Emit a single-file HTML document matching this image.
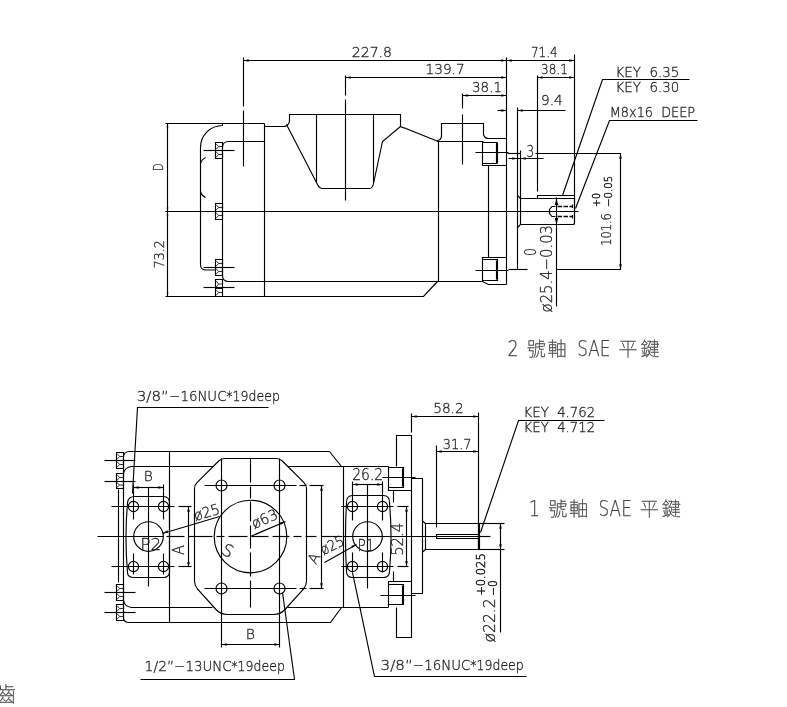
<!DOCTYPE html>
<html lang="zh-Hant"><head><meta charset="utf-8"><title>SAE shaft pump drawing</title>
<style>
html,body{margin:0;padding:0;background:#fff;overflow:hidden}
svg{display:block}
.ln{fill:none;stroke:#000;stroke-width:1.15}
.th{stroke-width:.8}
.cl{stroke-dasharray:13 4}
.ar{fill:#000;stroke:none}
.t{font-family:"DejaVu Sans Light","Liberation Sans",sans-serif;font-weight:200;fill:#222;stroke:#222;stroke-width:.3}
.ts{stroke-width:.5}
.tx{opacity:.999}
.tc{fill:#444;stroke:#444;stroke-width:.25}
.cj{font-family:"Liberation Sans","Noto Sans CJK TC","Noto Sans CJK JP",sans-serif;font-weight:100;fill:#444;stroke:#444;stroke-width:.3}
</style></head><body>
<svg width="787" height="707" viewBox="0 0 787 707">
<rect width="787" height="707" fill="#fff"/>
<g class="tx">
<g class="ln">
<line x1="243.5" y1="60.5" x2="574.5" y2="60.5"/>
<line x1="345.5" y1="77.5" x2="506.5" y2="77.5"/>
<line x1="462.5" y1="95.5" x2="506.5" y2="95.5"/>
<line x1="537.5" y1="77.5" x2="574.5" y2="77.5"/>
<line x1="497.5" y1="110.5" x2="506.5" y2="110.5"/>
<line x1="517.5" y1="110.5" x2="565.5" y2="110.5"/>
<line x1="508.5" y1="158.5" x2="543.5" y2="158.5"/>
<line x1="243.5" y1="57.5" x2="243.5" y2="106.5"/>
<line x1="243.5" y1="110.5" x2="243.5" y2="166.5"/>
<line x1="345.5" y1="75.5" x2="345.5" y2="95.5"/>
<line x1="345.5" y1="99.5" x2="345.5" y2="200.5"/>
<line x1="462.5" y1="93.5" x2="462.5" y2="108.5"/>
<line x1="462.5" y1="114.5" x2="462.5" y2="164.5"/>
<line x1="506.5" y1="57.5" x2="506.5" y2="284.5"/>
<line x1="574.5" y1="54.5" x2="574.5" y2="224.5"/>
<line x1="537.5" y1="75.5" x2="537.5" y2="191.5"/>
<line x1="517.5" y1="107.5" x2="517.5" y2="269.5"/>
<line x1="520.5" y1="150.5" x2="520.5" y2="224.5"/>
<line x1="167.5" y1="123.5" x2="167.5" y2="296.5"/>
<line x1="165.5" y1="123.5" x2="264.5" y2="123.5"/>
<line x1="165.5" y1="211.5" x2="578.5" y2="211.5"/>
<path d="M165.5,296.5H423.5L437.5,281.5"/>
<line x1="264.5" y1="123.5" x2="264.5" y2="296.5"/>
<path d="M264.5,126.5H283.5A6,6 0 0 0 289.5,120.5V114.5H400.5V126.5L436.5,140.8"/>
<path d="M286.5,124.5L317.5,184.5Q319.5,188.5 322.5,188.5H369.5Q372.5,188.5 373.5,183.5L382.5,141.5L400.5,126.5"/>
<line x1="316.5" y1="114.5" x2="316.5" y2="182.5"/>
<line x1="373.5" y1="114.5" x2="373.5" y2="182.5"/>
<path d="M436.5,140.5Q441.5,140.5 441.5,135.5V123.5H483.5V134.5Q484.5,138.5 488.5,138.5H506.5"/>
<line x1="436.5" y1="141.5" x2="483.5" y2="141.5"/>
<line x1="438.5" y1="141.5" x2="438.5" y2="281.5"/>
<path d="M264.5,141.5H228.5Q222.5,141.5 222.5,147.5V275.5Q222.5,281.5 228.5,281.5H482.5"/>
<path d="M222.5,123.5V125.5A22,22 0 0 0 200.5,147.5V264.5Q200.3,270 206.5,270H216"/>
<path d="M205.5,157.5Q201.5,159.5 200.5,163.5"/>
<path d="M200.5,191.5Q201.5,195.5 205.5,197.5"/>
<path d="M482.5,141.5V165.5H506.5"/>
<path d="M482.5,142.5H496.5V163.5H482.5 M497.5,142.5V163.5"/>
<line x1="475.5" y1="152.5" x2="508.5" y2="152.5"/>
<line x1="488.5" y1="165.5" x2="488.5" y2="257.5"/>
<path d="M506.5,257.5H482.5V281.5L488.5,284.5H506.5"/>
<path d="M482.5,259.5H497.5V280.5H482.5 M496.5,260.5V279.5"/>
<line x1="475.5" y1="270.5" x2="508.5" y2="270.5"/>
<path d="M535.5,153.5H620.5V269.5H556.5"/>
<line x1="507.5" y1="153.5" x2="520.5" y2="153.5"/>
<line x1="508.5" y1="269.5" x2="527.5" y2="269.5"/>
<path d="M520.5,198.5H574.5V223L573.3,224.5H520.5"/>
<path d="M517.5,195.5L520.5,198.5 M517.5,227.5L520.5,224.5"/>
<path d="M537.5,198.5V195.5H574.5"/>
<path d="M555.5,206.5H552L549.5,209.5V213.5L552,216.5H555.5 M572.5,204.5V208 M572.5,215V218.5"/>
<path d="M557.5,206.5H572.5 M557.5,216.5H572.5" stroke-dasharray="4.5 1.5" stroke-width="1.7"/>
<line x1="556.5" y1="197.5" x2="556.5" y2="306.5"/>
<path d="M562.5,195.5L602.5,79.5H689.5"/>
<path d="M575.5,208.5L609.5,120.5H697.5"/>
</g>
<g class="ln">
<path d="M215.5,142.5H222.5V158.5H215.5Z M215.5,150.5H222.5"/>
<path d="M216.0,143.7L218.65,146.5L216.0,149.3 M218.65,146.5H222.5" class="th"/>
<path d="M216.0,151.7L218.65,154.5L216.0,157.3 M218.65,154.5H222.5" class="th"/>
<line x1="203.5" y1="150.5" x2="234.5" y2="150.5"/>
<path d="M215.5,203.5H222.5V219.5H215.5Z M215.5,211.5H222.5"/>
<path d="M216.0,204.7L218.65,207.5L216.0,210.3 M218.65,207.5H222.5" class="th"/>
<path d="M216.0,212.7L218.65,215.5L216.0,218.3 M218.65,215.5H222.5" class="th"/>
<path d="M215.5,259.5H222.5V275.5H215.5Z M215.5,267.5H222.5"/>
<path d="M216.0,260.7L218.65,263.5L216.0,266.3 M218.65,263.5H222.5" class="th"/>
<path d="M216.0,268.7L218.65,271.5L216.0,274.3 M218.65,271.5H222.5" class="th"/>
<line x1="203.5" y1="267.5" x2="234.5" y2="267.5"/>
<path d="M215.5,279.5H222.5V296.5H215.5Z M215.5,288.5H222.5"/>
<path d="M216.0,280.7L218.65,284.0L216.0,287.3 M218.65,284.0H222.5" class="th"/>
<path d="M216.0,289.7L218.65,292.5L216.0,295.3 M218.65,292.5H222.5" class="th"/>
<line x1="203.5" y1="287.5" x2="234.5" y2="287.5"/>
</g>
<polygon class="ar" points="243.5,60.5 248.7,59.2 248.7,61.8"/>
<polygon class="ar" points="506.5,60.5 501.3,61.8 501.3,59.2"/>
<polygon class="ar" points="506.5,60.5 511.7,59.2 511.7,61.8"/>
<polygon class="ar" points="574.5,60.5 569.3,61.8 569.3,59.2"/>
<polygon class="ar" points="345.5,77.5 350.7,76.2 350.7,78.8"/>
<polygon class="ar" points="506.5,77.5 501.3,78.8 501.3,76.2"/>
<polygon class="ar" points="462.5,95.5 467.7,94.2 467.7,96.8"/>
<polygon class="ar" points="506.5,95.5 501.3,96.8 501.3,94.2"/>
<polygon class="ar" points="537.5,77.5 542.7,76.2 542.7,78.8"/>
<polygon class="ar" points="574.5,77.5 569.3,78.8 569.3,76.2"/>
<polygon class="ar" points="506.5,110.5 501.3,111.8 501.3,109.2"/>
<polygon class="ar" points="517.5,110.5 522.7,109.2 522.7,111.8"/>
<polygon class="ar" points="517.5,158.5 512.3,159.8 512.3,157.2"/>
<polygon class="ar" points="520.5,158.5 525.7,157.2 525.7,159.8"/>
<polygon class="ar" points="167.5,123.5 168.4,127.5 166.6,127.5"/>
<polygon class="ar" points="167.5,211.5 166.6,207.5 168.4,207.5"/>
<polygon class="ar" points="167.5,211.5 168.4,215.5 166.6,215.5"/>
<polygon class="ar" points="167.5,296.5 166.6,292.5 168.4,292.5"/>
<polygon class="ar" points="556.5,198.5 558.3,205.0 554.7,205.0"/>
<polygon class="ar" points="556.5,224.5 554.7,218.0 558.3,218.0"/>
<polygon class="ar" points="620.5,153.5 621.8,158.7 619.2,158.7"/>
<polygon class="ar" points="620.5,269.5 619.2,264.3 621.8,264.3"/>
<text class="t" x="351.8" y="56.5" font-size="14.17" textLength="40.2" lengthAdjust="spacingAndGlyphs">227.8</text>
<text class="t" x="425.6" y="74.4" font-size="14.17" textLength="39" lengthAdjust="spacingAndGlyphs">139.7</text>
<text class="t" x="472" y="92.2" font-size="14.17" textLength="30" lengthAdjust="spacingAndGlyphs">38.1</text>
<text class="t" x="530.9" y="56.5" font-size="14.17" textLength="26.7" lengthAdjust="spacingAndGlyphs">71.4</text>
<text class="t" x="541" y="74.4" font-size="14.17" textLength="26.8" lengthAdjust="spacingAndGlyphs">38.1</text>
<text class="t" x="541" y="104.9" font-size="14.17" textLength="21.7" lengthAdjust="spacingAndGlyphs">9.4</text>
<text class="t" x="526.6" y="157.2" font-size="15.04" textLength="7.6" lengthAdjust="spacingAndGlyphs">3</text>
<text class="t" x="615.6" y="76.7" font-size="13.63" textLength="63.6" lengthAdjust="spacingAndGlyphs">KEY&#160;&#160;6.35</text>
<text class="t" x="615.6" y="92.1" font-size="13.63" textLength="63.6" lengthAdjust="spacingAndGlyphs">KEY&#160;&#160;6.30</text>
<text class="t" x="609.8" y="117" font-size="13.63" textLength="85.2" lengthAdjust="spacingAndGlyphs">M8x16&#160;&#160;DEEP</text>
<text class="t" x="163.2" y="171" font-size="13.73" textLength="7.6" lengthAdjust="spacingAndGlyphs" transform="rotate(-90 163.2 171)">D</text>
<text class="t" x="164.4" y="268.2" font-size="13.52" textLength="28" lengthAdjust="spacingAndGlyphs" transform="rotate(-90 164.4 268.2)">73.2</text>
<text class="t" x="610.6" y="245.8" font-size="13.3" textLength="32.6" lengthAdjust="spacingAndGlyphs" transform="rotate(-90 610.6 245.8)">101.6</text>
<text class="t ts" x="600.3" y="207" font-size="10.68" textLength="14" lengthAdjust="spacingAndGlyphs" transform="rotate(-90 600.3 207)">+0</text>
<text class="t ts" x="612.4" y="207" font-size="10.68" textLength="31.3" lengthAdjust="spacingAndGlyphs" transform="rotate(-90 612.4 207)">&#8722;0.05</text>
<text class="t" x="552.2" y="312.4" font-size="16.35" textLength="87.4" lengthAdjust="spacingAndGlyphs" transform="rotate(-90 552.2 312.4)">&#248;25.4&#8722;0.03</text>
<text class="t" x="536.2" y="256" font-size="15.26" textLength="8" lengthAdjust="spacingAndGlyphs" transform="rotate(-90 536.2 256)">0</text>
<g class="ln">
<path d="M329.5,451.5H129.5Q123.5,451.5 123.5,457.5V617.5Q123.5,622.5 129.5,622.5H330.5L341.5,607.5"/>
<path d="M329.5,451.5L341.5,466.5"/>
<path d="M213.5,466.5H131.5Q124.5,467.5 123.5,473.5"/>
<path d="M212.5,607.5H131.5Q124.5,606.5 123.5,600.5"/>
<line x1="118.5" y1="489.5" x2="118.5" y2="582.5"/>
<line x1="169.5" y1="451.5" x2="169.5" y2="622.5"/>
<line x1="287.5" y1="466.5" x2="388.5" y2="466.5"/>
<line x1="287.5" y1="607.5" x2="388.5" y2="607.5"/>
<line x1="343.5" y1="466.5" x2="343.5" y2="607.5"/>
<path d="M224.7,458.5H276.3Q279.8,458.5 282.3,461L304,482.7Q306.5,485.2 306.5,488.7V581Q306.5,585.5 303.5,589L285,609.5Q280.5,614.5 273.5,614.5H227.5Q220.5,614.5 216,609.5L197.5,589Q194.5,585.5 194.5,581V488.7Q194.5,485.2 197,482.7L218.7,461Q221.2,458.5 224.7,458.5Z"/>
<circle cx="250.5" cy="536.5" r="36.3"/>
<circle cx="221.5" cy="485.5" r="5.5"/>
<circle cx="279.5" cy="485.5" r="5.5"/>
<circle cx="221.5" cy="588.5" r="5.5"/>
<circle cx="279.5" cy="588.5" r="5.5"/>
<line x1="221.5" y1="458.5" x2="221.5" y2="647.5"/>
<line x1="279.5" y1="458.5" x2="279.5" y2="647.5"/>
<line x1="221.5" y1="644.5" x2="279.5" y2="644.5"/>
<path d="M134.5,496.5H163.5Q169.5,496.5 169.5,503.5V571.5Q169.5,577.5 163.5,577.5H134.5Q127.5,577.5 127.5,572.5Q124.5,537.5 127.5,502.5Q128.5,496.5 134.5,496.5Z"/>
<circle cx="148.5" cy="536.5" r="14.8"/>
<circle cx="133.5" cy="506.5" r="5.1"/>
<circle cx="163.5" cy="506.5" r="5.1"/>
<circle cx="133.5" cy="566.5" r="5.1"/>
<circle cx="163.5" cy="566.5" r="5.1"/>
<line x1="133.5" y1="487.5" x2="163.5" y2="487.5"/>
<line x1="133.5" y1="484.5" x2="133.5" y2="491.5"/>
<line x1="163.5" y1="484.5" x2="163.5" y2="491.5"/>
<line x1="148.5" y1="487.5" x2="148.5" y2="586.5"/>
<line x1="188.5" y1="506.5" x2="188.5" y2="566.5"/>
<line x1="162.5" y1="533.5" x2="219.5" y2="516.5"/>
<line x1="250.5" y1="536.5" x2="285.5" y2="521.5"/>
<path d="M352.5,495.5H383.5Q389.5,495.5 389.5,502.5Q392.5,536.5 389.5,571.5Q389.5,577.5 383.5,577.5H352.5Q346.5,577.5 346.5,571.5Q344.5,536.5 346.5,502.5Q346.5,495.5 352.5,495.5Z"/>
<circle cx="367.5" cy="536.5" r="14.8"/>
<circle cx="352.5" cy="506.5" r="5.1"/>
<circle cx="382.5" cy="506.5" r="5.1"/>
<circle cx="352.5" cy="566.5" r="5.1"/>
<circle cx="382.5" cy="566.5" r="5.1"/>
<line x1="352.5" y1="484.5" x2="382.5" y2="484.5"/>
<line x1="352.5" y1="481.5" x2="352.5" y2="520.5"/>
<line x1="382.5" y1="481.5" x2="382.5" y2="520.5"/>
<line x1="352.5" y1="552.5" x2="352.5" y2="572.5"/>
<line x1="382.5" y1="552.5" x2="382.5" y2="572.5"/>
<line x1="367.5" y1="484.5" x2="367.5" y2="588.5"/>
<line x1="406.5" y1="506.5" x2="406.5" y2="566.5"/>
<line x1="321.5" y1="485.5" x2="321.5" y2="588.5"/>
<line x1="356.5" y1="544.5" x2="324.5" y2="562.5"/>
<path d="M396.5,466.5V435.5H411.5V637.5H396.5V607.5"/>
<path d="M388.5,466.5V490.5H411.5"/>
<path d="M388.5,467.5H403.5V487.5H388.5 M402.5,468.5V486.5"/>
<line x1="382.5" y1="477.5" x2="415.5" y2="477.5"/>
<path d="M411.5,478.5H422.5V593.5H411.5"/>
<path d="M411.5,581.5H388.5V607.5"/>
<path d="M388.5,584.5H403.5V604.5H388.5 M402.5,585.5V604.5"/>
<line x1="380.5" y1="595.5" x2="415.5" y2="595.5"/>
<line x1="393.5" y1="490.5" x2="393.5" y2="502.5"/>
<line x1="393.5" y1="571.5" x2="393.5" y2="581.5"/>
<path d="M425.5,523.5H478.5V549.5H425.5 M422.5,521L425.5,523.5 M422.5,552L425.5,549.5"/>
<path d="M425.5,523.5V549.5"/>
<path d="M478.5,534.5H436.5V538.5H478.5 M479.5,523.5V549.5"/>
<line x1="478.5" y1="536.5" x2="490.5" y2="536.5"/>
<line x1="411.5" y1="416.5" x2="478.5" y2="416.5"/>
<line x1="411.5" y1="413.5" x2="411.5" y2="432.5"/>
<line x1="436.5" y1="451.5" x2="478.5" y2="451.5"/>
<line x1="436.5" y1="445.5" x2="436.5" y2="527.5"/>
<line x1="478.5" y1="412.5" x2="478.5" y2="549.5"/>
<line x1="478.5" y1="523.5" x2="504.5" y2="523.5"/>
<line x1="478.5" y1="549.5" x2="504.5" y2="549.5"/>
<line x1="500.5" y1="523.5" x2="500.5" y2="632.5"/>
<path d="M268.5,407.5H137.5L132.5,493.5"/>
<path d="M480.5,532.5L518.5,420.5H604.5"/>
<path d="M352.5,572.5L374.5,676.5H526.5"/>
<path d="M282.5,592.5L294.5,679.5H140.5"/>
</g>
<g class="ln">
<line x1="97.5" y1="536.5" x2="163.5" y2="536.5"/>
<line x1="166.5" y1="536.5" x2="184.5" y2="536.5"/>
<line x1="188.5" y1="536.5" x2="212.5" y2="536.5"/>
<line x1="216.5" y1="536.5" x2="224.5" y2="536.5"/>
<line x1="228.5" y1="536.5" x2="247.5" y2="536.5"/>
<line x1="251.5" y1="536.5" x2="268.5" y2="536.5"/>
<line x1="272.5" y1="536.5" x2="289.5" y2="536.5"/>
<line x1="293.5" y1="536.5" x2="301.5" y2="536.5"/>
<line x1="305.5" y1="536.5" x2="316.5" y2="536.5"/>
<line x1="321.5" y1="536.5" x2="342.5" y2="536.5"/>
<line x1="343.5" y1="536.5" x2="479.5" y2="536.5"/>
<line x1="111.5" y1="506.5" x2="174.5" y2="506.5"/>
<line x1="178.5" y1="506.5" x2="191.5" y2="506.5"/>
<line x1="111.5" y1="566.5" x2="174.5" y2="566.5"/>
<line x1="178.5" y1="566.5" x2="191.5" y2="566.5"/>
<line x1="341.5" y1="506.5" x2="393.5" y2="506.5"/>
<line x1="397.5" y1="506.5" x2="408.5" y2="506.5"/>
<line x1="341.5" y1="566.5" x2="393.5" y2="566.5"/>
<line x1="397.5" y1="566.5" x2="408.5" y2="566.5"/>
<line x1="204.5" y1="485.5" x2="296.5" y2="485.5"/>
<line x1="299.5" y1="485.5" x2="306.5" y2="485.5"/>
<line x1="309.5" y1="485.5" x2="323.5" y2="485.5"/>
<line x1="204.5" y1="588.5" x2="296.5" y2="588.5"/>
<line x1="299.5" y1="588.5" x2="306.5" y2="588.5"/>
<line x1="309.5" y1="588.5" x2="323.5" y2="588.5"/>
<line x1="250.5" y1="458.5" x2="250.5" y2="482.5"/>
<line x1="250.5" y1="486.5" x2="250.5" y2="498.5"/>
<line x1="250.5" y1="501.5" x2="250.5" y2="521.5"/>
<line x1="250.5" y1="525.5" x2="250.5" y2="548.5"/>
<line x1="250.5" y1="552.5" x2="250.5" y2="576.5"/>
<line x1="250.5" y1="580.5" x2="250.5" y2="607.5"/>
<line x1="133.5" y1="491.5" x2="133.5" y2="519.5"/>
<line x1="133.5" y1="553.5" x2="133.5" y2="574.5"/>
<line x1="163.5" y1="491.5" x2="163.5" y2="519.5"/>
<line x1="163.5" y1="553.5" x2="163.5" y2="574.5"/>
</g>
<g class="ln">
<path d="M116.5,452.5H123.5V468.5H116.5Z M116.5,460.5H123.5"/>
<path d="M117.0,453.7L119.65,456.5L117.0,459.3 M119.65,456.5H123.5" class="th"/>
<path d="M117.0,461.7L119.65,464.5L117.0,467.3 M119.65,464.5H123.5" class="th"/>
<line x1="104.5" y1="460.5" x2="135.5" y2="460.5"/>
<path d="M116.5,473.5H123.5V488.5H116.5Z M116.5,481.5H123.5"/>
<path d="M117.0,474.7L119.65,477.5L117.0,480.3 M119.65,477.5H123.5" class="th"/>
<path d="M117.0,482.7L119.65,485.0L117.0,487.3 M119.65,485.0H123.5" class="th"/>
<line x1="104.5" y1="481.5" x2="135.5" y2="481.5"/>
<path d="M116.5,584.5H123.5V600.5H116.5Z M116.5,592.5H123.5"/>
<path d="M117.0,585.7L119.65,588.5L117.0,591.3 M119.65,588.5H123.5" class="th"/>
<path d="M117.0,593.7L119.65,596.5L117.0,599.3 M119.65,596.5H123.5" class="th"/>
<line x1="104.5" y1="592.5" x2="135.5" y2="592.5"/>
<path d="M116.5,604.5H123.5V620.5H116.5Z M116.5,612.5H123.5"/>
<path d="M117.0,605.7L119.65,608.5L117.0,611.3 M119.65,608.5H123.5" class="th"/>
<path d="M117.0,613.7L119.65,616.5L117.0,619.3 M119.65,616.5H123.5" class="th"/>
<line x1="104.5" y1="612.5" x2="135.5" y2="612.5"/>
</g>
<polygon class="ar" points="411.5,416.5 416.7,415.2 416.7,417.8"/>
<polygon class="ar" points="478.5,416.5 473.3,417.8 473.3,415.2"/>
<polygon class="ar" points="436.5,451.5 441.7,450.2 441.7,452.8"/>
<polygon class="ar" points="478.5,451.5 473.3,452.8 473.3,450.2"/>
<polygon class="ar" points="133.5,487.5 138.7,486.2 138.7,488.8"/>
<polygon class="ar" points="163.5,487.5 158.3,488.8 158.3,486.2"/>
<polygon class="ar" points="352.5,484.5 357.7,483.2 357.7,485.8"/>
<polygon class="ar" points="382.5,484.5 377.3,485.8 377.3,483.2"/>
<polygon class="ar" points="221.5,644.5 226.7,643.2 226.7,645.8"/>
<polygon class="ar" points="279.5,644.5 274.3,645.8 274.3,643.2"/>
<polygon class="ar" points="188.5,506.5 189.8,511.7 187.2,511.7"/>
<polygon class="ar" points="188.5,567.5 187.2,562.3 189.8,562.3"/>
<polygon class="ar" points="406.5,506.5 407.8,511.7 405.2,511.7"/>
<polygon class="ar" points="406.5,566.5 405.2,561.3 407.8,561.3"/>
<polygon class="ar" points="321.5,485.5 322.8,490.7 320.2,490.7"/>
<polygon class="ar" points="321.5,588.5 320.2,583.3 322.8,583.3"/>
<polygon class="ar" points="500.5,523.5 501.8,528.7 499.2,528.7"/>
<polygon class="ar" points="500.5,549.5 499.2,544.3 501.8,544.3"/>
<polygon class="ar" points="162.8,533.0 167.4,530.3 168.1,532.7"/>
<polygon class="ar" points="285.0,521.7 280.7,524.9 279.7,522.6"/>
<polygon class="ar" points="356.5,544.3 352.6,548.0 351.4,545.8"/>
<text class="t" x="136.7" y="400.9" font-size="14.06" textLength="32.2" lengthAdjust="spacingAndGlyphs">3/8&#8221;</text>
<text class="t" x="169.2" y="400.9" font-size="14.06" textLength="57.3" lengthAdjust="spacingAndGlyphs">&#8722;16NUC</text>
<text class="t" x="226.3" y="400.9" font-size="14.06" textLength="53.6" lengthAdjust="spacingAndGlyphs">*19deep</text>
<text class="t" x="144.6" y="671" font-size="14.06" textLength="29.6" lengthAdjust="spacingAndGlyphs">1/2&#8221;</text>
<text class="t" x="174.2" y="671" font-size="14.06" textLength="57.3" lengthAdjust="spacingAndGlyphs">&#8722;13UNC</text>
<text class="t" x="231.3" y="671" font-size="14.06" textLength="53.6" lengthAdjust="spacingAndGlyphs">*19deep</text>
<text class="t" x="380.6" y="670.1" font-size="14.06" textLength="32.2" lengthAdjust="spacingAndGlyphs">3/8&#8221;</text>
<text class="t" x="413.1" y="670.1" font-size="14.06" textLength="57.3" lengthAdjust="spacingAndGlyphs">&#8722;16NUC</text>
<text class="t" x="470.2" y="670.1" font-size="14.06" textLength="53.6" lengthAdjust="spacingAndGlyphs">*19deep</text>
<text class="t" x="433.2" y="413" font-size="14.17" textLength="30.5" lengthAdjust="spacingAndGlyphs">58.2</text>
<text class="t" x="442.8" y="448.7" font-size="14.17" textLength="28.8" lengthAdjust="spacingAndGlyphs">31.7</text>
<text class="t" x="352.2" y="479.7" font-size="15.81" textLength="31" lengthAdjust="spacingAndGlyphs">26.2</text>
<text class="t" x="523.6" y="417.2" font-size="13.84" textLength="71.5" lengthAdjust="spacingAndGlyphs">KEY&#160;&#160;4.762</text>
<text class="t" x="523.6" y="432.3" font-size="13.84" textLength="71.5" lengthAdjust="spacingAndGlyphs">KEY&#160;&#160;4.712</text>
<text class="t" x="143.8" y="481.3" font-size="14.17" textLength="9" lengthAdjust="spacingAndGlyphs">B</text>
<text class="t" x="245.7" y="639" font-size="14.82" textLength="9.3" lengthAdjust="spacingAndGlyphs">B</text>
<text class="t" x="184" y="555" font-size="15.26" textLength="10" lengthAdjust="spacingAndGlyphs" transform="rotate(-90 184 555)">A</text>
<text class="t" x="316" y="565" font-size="14.72" textLength="10" lengthAdjust="spacingAndGlyphs" transform="rotate(-62 316 565)">A</text>
<text class="t" x="403.4" y="555.8" font-size="15.48" textLength="33" lengthAdjust="spacingAndGlyphs" transform="rotate(-90 403.4 555.8)">52.4</text>
<text class="t" x="195.5" y="520.9" font-size="14.72" textLength="26.5" lengthAdjust="spacingAndGlyphs" transform="rotate(-16.6 195.5 520.9)">&#248;25</text>
<text class="t" x="254.3" y="529" font-size="14.72" textLength="27" lengthAdjust="spacingAndGlyphs" transform="rotate(-23.5 254.3 529)">&#248;63</text>
<text class="t" x="323.6" y="555.3" font-size="14.72" textLength="24.5" lengthAdjust="spacingAndGlyphs" transform="rotate(-27 323.6 555.3)">&#248;25</text>
<text class="t" x="140.2" y="550" font-size="16.35" textLength="21" lengthAdjust="spacingAndGlyphs">P2</text>
<text class="t" x="357.6" y="551" font-size="16.35" textLength="17" lengthAdjust="spacingAndGlyphs">P1</text>
<text class="t" x="220.6" y="553.4" font-size="16.89" textLength="10.5" lengthAdjust="spacingAndGlyphs" transform="rotate(27 220.6 553.4)">S</text>
<text class="t" x="495.2" y="642.6" font-size="15.91" textLength="44.4" lengthAdjust="spacingAndGlyphs" transform="rotate(-90 495.2 642.6)">&#248;22.2</text>
<text class="t ts" x="484.6" y="595.8" font-size="11.45" textLength="42.5" lengthAdjust="spacingAndGlyphs" transform="rotate(-90 484.6 595.8)">+0.025</text>
<text class="t ts" x="497.2" y="595.8" font-size="11.45" textLength="15.6" lengthAdjust="spacingAndGlyphs" transform="rotate(-90 497.2 595.8)">&#8722;0</text>
<text class="t tc" x="507.4" y="356.2" font-size="20.6" textLength="11.2" lengthAdjust="spacingAndGlyphs">2</text>
<text class="cj" x="526.8" y="355.59999999999997" font-size="19.2" letter-spacing="1.6">號軸</text>
<text class="t tc" x="577.2" y="356.2" font-size="20.6" textLength="33.2" lengthAdjust="spacingAndGlyphs">SAE</text>
<text class="cj" x="618.4" y="355.59999999999997" font-size="19.2" letter-spacing="2.8">平鍵</text>
<text class="t tc" x="528.8" y="516.2" font-size="20.6" textLength="11.2" lengthAdjust="spacingAndGlyphs">1</text>
<text class="cj" x="548.1999999999999" y="515.6" font-size="19.2" letter-spacing="1.6">號軸</text>
<text class="t tc" x="598.6" y="516.2" font-size="20.6" textLength="33.2" lengthAdjust="spacingAndGlyphs">SAE</text>
<text class="cj" x="639.8" y="515.6" font-size="19.2" letter-spacing="2.8">平鍵</text>
<text class="cj" x="-4.5" y="702" font-size="20.6">齒</text>
</g>
</svg>
</body></html>
